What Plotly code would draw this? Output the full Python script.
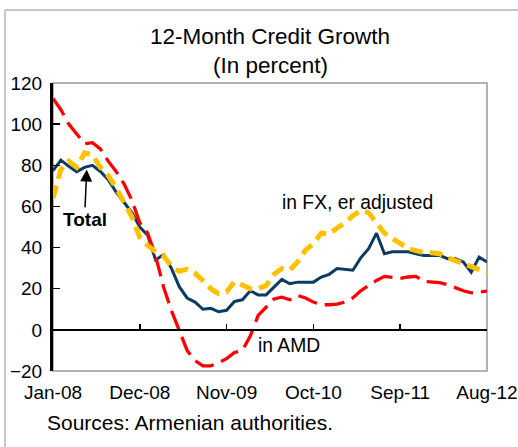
import plotly.graph_objects as go

month_names = ["Jan", "Feb", "Mar", "Apr", "May", "Jun", "Jul", "Aug", "Sep", "Oct", "Nov", "Dec"]
years = ["08", "09", "10", "11", "12"]
months = [f"{m}-{y}" for y in years for m in month_names][:56]  # Jan-08 .. Aug-12

tick_labels = ["Jan-08", "Dec-08", "Nov-09", "Oct-10", "Sep-11", "Aug-12"]

total = [77.4, 82.5, 79.5, 76.9, 79, 80, 77, 73, 67, 62,
         57, 50, 46, 34, 36.5, 30, 21, 15.5, 13.5, 10,
         10.5, 8.8, 9.5, 13.8, 14.6, 19, 17, 17, 21, 24.5,
         22.4, 23.2, 23.2, 23.2, 25.7, 27, 29.8, 29.5, 29, 35,
         39.5, 47, 37, 38, 38, 38, 37, 36.2, 36.2, 36.2,
         34.6, 34.6, 33, 28, 35.4, 33]

in_amd = [112.5, 107, 100, 95, 90.5, 91, 88, 82, 77, 71,
          63, 52, 47, 36, 21, 9.5, -0.5, -10, -15, -17.5,
          -17.5, -16, -14, -11, -10, -3, 7, 11, 15, 15.9,
          14.6, 16.7, 15.5, 13.5, 12.2, 12.2, 12.5, 13.5, 15.5, 19,
          21.5, 24, 26, 25.5, 25, 25.7, 26, 23.5, 23.2, 23,
          22, 20.5, 19, 18, 18.5, 18.8]

in_fx = [64, 78, 82, 79, 86, 85, 79, 75, 69, 62,
         55, 45, 41, 38, 36, 31, 28.5, 29.5, 27.5, 24,
         20, 17.5, 18.5, 23.5, 22, 20, 20, 21.5, 27, 29.8,
         29, 33, 38.7, 42, 47, 46.5, 49.5, 52, 55.5, 58,
         57, 52, 47, 44.5, 42, 39.5, 38.5, 37.5, 37.5, 37,
         35, 33.5, 32, 30.5, 29.5, 28]

FONT = "Liberation Sans, Arial, sans-serif"

fig = go.Figure()
fig.add_trace(go.Scatter(x=months, y=total, mode="lines", name="Total",
                         line=dict(color="#0b3a62", width=3)))
fig.add_trace(go.Scatter(x=months, y=in_amd, mode="lines", name="in AMD",
                         line=dict(color="#ff0000", width=3.3, dash="20px,8px")))
fig.add_trace(go.Scatter(x=months, y=in_fx, mode="lines", name="in FX, er adjusted",
                         line=dict(color="#ffc000", width=5, dash="13px,7px")))
# helper trace so the zero-line axis renders
fig.add_trace(go.Scatter(x=months, y=total, xaxis="x2", mode="lines",
                         line=dict(width=0), opacity=0, showlegend=False, hoverinfo="skip"))

L, R, T, B = 53, 31, 83, 76
W, H = 518, 447
ph = H - T - B
pw = W - L - R
zero_pos = (0 - (-20)) / 140  # fraction of plot height

fig.update_layout(
    width=W, height=H, autosize=False,
    margin=dict(l=L, r=R, t=T, b=B),
    paper_bgcolor="white", plot_bgcolor="white",
    showlegend=False,
    font=dict(family=FONT, color="black"),
    xaxis=dict(type="category", categoryorder="array", categoryarray=months,
               range=[0, 55], tickvals=tick_labels, ticktext=tick_labels,
               showline=False, showgrid=False, zeroline=False, ticks="",
               automargin=False,
               tickfont=dict(size=19, family=FONT), ticklabelstandoff=8),
    xaxis2=dict(type="category", categoryorder="array", categoryarray=months,
                overlaying="x", anchor="free", position=zero_pos, matches="x",
                range=[0, 55], tickvals=tick_labels, showticklabels=False,
                showline=True, linecolor="black", linewidth=2.5, automargin=False,
                ticks="inside", ticklen=5, tickwidth=1.5, tickcolor="black",
                showgrid=False, zeroline=False),
    yaxis=dict(range=[-20, 120], dtick=20, showgrid=False, zeroline=False,
               showline=True, linecolor="black", linewidth=3, automargin=False,
               ticks="inside", ticklen=7, tickwidth=1.5, tickcolor="black",
               tickfont=dict(size=19, family=FONT), ticklabelstandoff=4),
    shapes=[
        dict(type="rect", xref="paper", yref="paper", x0=0, x1=1, y0=0, y1=1,
             line=dict(color="#9a9a9a", width=1.5), layer="below"),
        dict(type="line", xref="paper", yref="paper",
             x0=(5 - L) / pw, x1=3, y0=(H - B - 10) / ph, y1=(H - B - 10) / ph,
             line=dict(color="#c8c8c8", width=2)),
        dict(type="line", xref="paper", yref="paper",
             x0=(5 - L) / pw, x1=(5 - L) / pw, y0=-3, y1=(H - B - 10) / ph,
             line=dict(color="#c8c8c8", width=2)),
    ],
    annotations=[
        dict(text="12-Month Credit Growth", xref="paper", yref="paper",
             x=0.5, y=(H - B - 37) / ph, showarrow=False,
             font=dict(size=22.5, family=FONT), xanchor="center", yanchor="middle"),
        dict(text="(In percent)", xref="paper", yref="paper",
             x=0.5, y=(H - B - 65) / ph, showarrow=False,
             font=dict(size=22.5, family=FONT), xanchor="center", yanchor="middle"),
        dict(text="Sources: Armenian authorities.", xref="paper", yref="paper",
             x=(45 - L) / pw, y=(H - B - 422) / ph, showarrow=False,
             font=dict(size=21, family=FONT), xanchor="left", yanchor="middle"),
        dict(text="in FX, er adjusted", x=38.6, y=62, showarrow=False,
             font=dict(size=19.3, family=FONT), xanchor="center", yanchor="middle"),
        dict(text="in AMD", x=29.9, y=-7.6, showarrow=False,
             font=dict(size=19.3, family=FONT), xanchor="center", yanchor="middle"),
        dict(text="<b>Total</b>", x=4.27, y=78, axref="x", ayref="y", ax=4.0, ay=53.7,
             showarrow=True, arrowhead=2, arrowsize=1.6, arrowwidth=1.5,
             arrowcolor="black", font=dict(size=19, family=FONT)),
    ],
)

fig.write_html("out.html",
               config={"responsive": False, "displayModeBar": False, "staticPlot": True},
               post_script="document.body.style.margin='0';document.body.style.overflow='hidden';")
